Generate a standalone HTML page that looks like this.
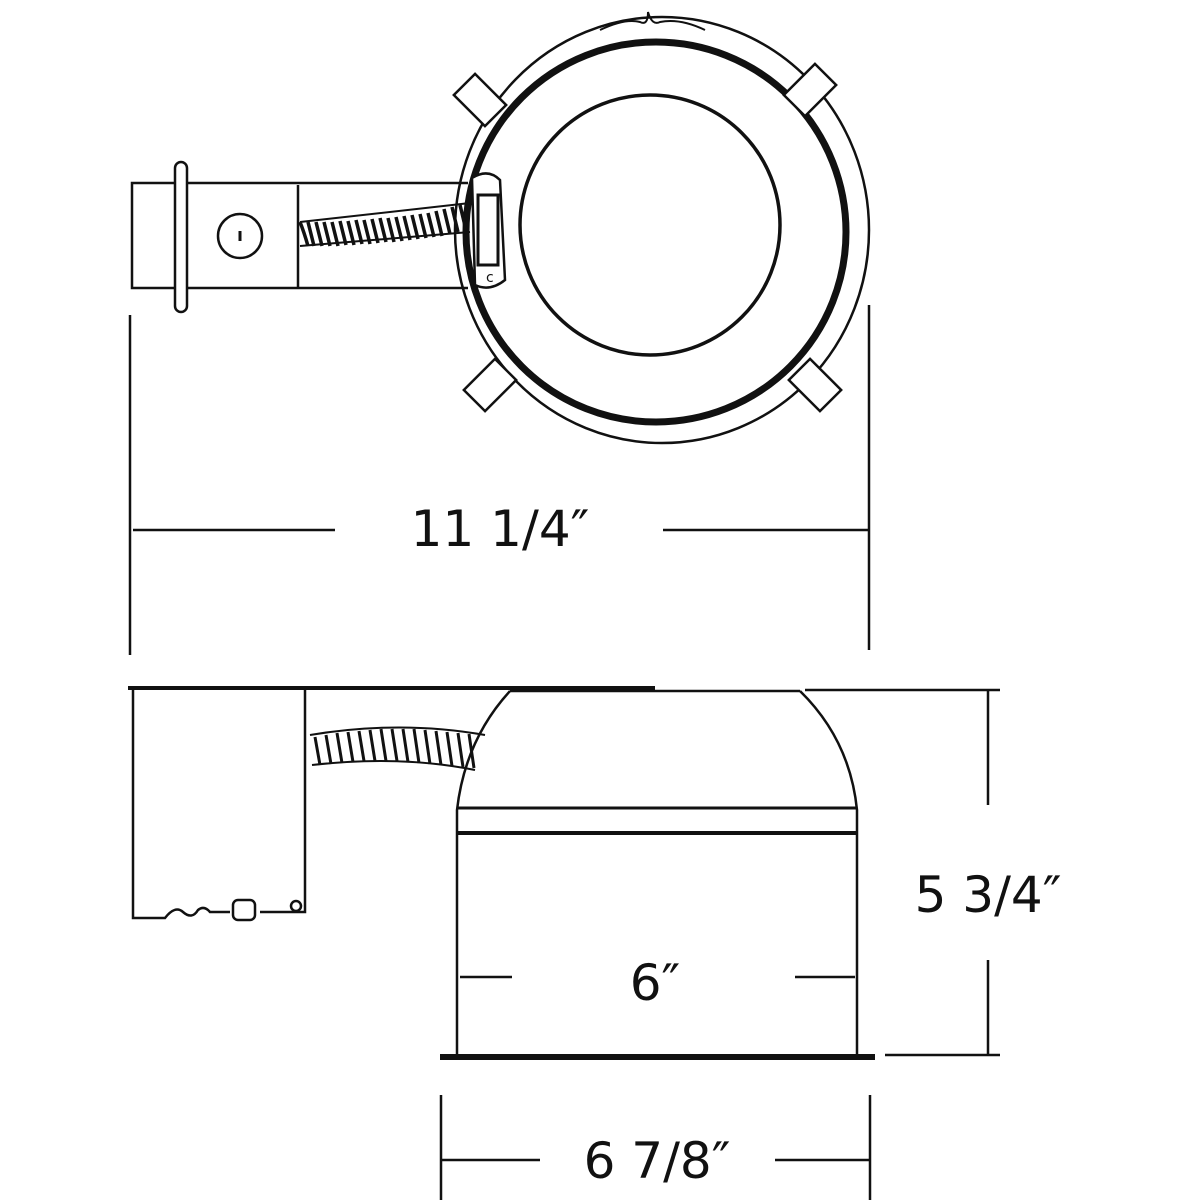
<!DOCTYPE html>
<html><head><style>body{margin:0;background:#fff}svg{display:block}text{font-family:"DejaVu Sans","Liberation Sans",sans-serif;fill:#111}</style></head><body>
<svg width="1200" height="1200" viewBox="0 0 1200 1200" xmlns="http://www.w3.org/2000/svg">
<g fill="none" stroke="#111" stroke-width="2.5">
<!-- plan view -->
<ellipse cx="662" cy="230" rx="207" ry="213"/>
<circle cx="656" cy="232" r="190" stroke-width="7"/>
<circle cx="650" cy="225" r="130" stroke-width="3.5"/>
<path d="M600 30 Q625 18 640 22 Q648 26 648 12 Q652 26 660 22 Q680 18 705 30" stroke-width="2"/>
<g fill="#fff">
<rect x="-15" y="-22" width="30" height="44" transform="translate(480,100) rotate(-45)"/>
<rect x="-15" y="-22" width="30" height="44" transform="translate(810,90) rotate(45)"/>
<rect x="-15" y="-22" width="30" height="44" transform="translate(490,385) rotate(45)"/>
<rect x="-15" y="-22" width="30" height="44" transform="translate(815,385) rotate(-45)"/>
</g>
<path d="M468 183 H132 V288 H468"/>
<line x1="298" y1="185" x2="298" y2="288"/>
<rect x="175" y="162" width="12" height="150" rx="6" fill="#fff"/>
<circle cx="240" cy="236" r="22"/>
<line x1="240" y1="231" x2="240" y2="241" stroke-width="3"/>
<path d="M300 222 Q304 232 308 246 M308 222 L314 246 M316 222 L322 246 M324 222 L330 246 M332 222 L338 246 M340 221 L346 245 M348 221 L354 245 M356 220 L362 244 M364 220 L370 244 M372 219 L378 243 M380 218 L386 242 M388 218 L394 242 M396 217 L402 241 M404 216 L410 240 M412 215 L418 239 M420 214 L426 238 M428 213 L434 237 M436 211 L442 236 M444 209 L450 234 M452 207 L458 232 M460 205 L466 230" stroke-width="3.5"/>
<path d="M300 222 L470 203 M300 246 L470 232" stroke-width="2"/>
<path d="M472 178 Q488 168 500 180 L505 280 Q490 292 475 285 Z" fill="#fff"/>
<rect x="478" y="195" width="20" height="70" stroke-width="3"/>
<text x="486" y="282" font-size="14" stroke="none">c</text>
<!-- dimension 11 1/4 -->
<line x1="130" y1="315" x2="130" y2="655"/>
<line x1="869" y1="305" x2="869" y2="650"/>
<line x1="133" y1="530" x2="335" y2="530"/>
<line x1="663" y1="530" x2="869" y2="530"/>
<!-- side view -->
<line x1="128" y1="688" x2="655" y2="688" stroke-width="4"/>
<line x1="510" y1="691" x2="800" y2="691"/>
<path d="M133 690 V918 H165 Q175 905 183 912 Q192 920 198 910 Q204 905 210 912 L230 912 M260 912 H305 V690"/>
<rect x="233" y="900" width="22" height="20" rx="5"/>
<circle cx="296" cy="906" r="5"/>
<path d="M510 691 Q465 740 457 810 V1055 M800 691 Q850 740 857 810 V1055"/>
<line x1="457" y1="808" x2="857" y2="808" stroke-width="3"/>
<line x1="457" y1="833" x2="857" y2="833" stroke-width="4"/>
<line x1="440" y1="1057" x2="875" y2="1057" stroke-width="6"/>
<path d="M310 735 Q400 720 485 735 M312 765 Q400 755 475 770" stroke-width="2"/>
<path d="M315 737 L320 765 M326 735 L331 764 M337 733 L342 763 M348 732 L353 762 M359 731 L364 761 M370 730 L375 761 M381 729 L386 761 M392 729 L397 761 M403 729 L408 762 M414 729 L419 763 M425 730 L430 764 M436 731 L441 765 M447 732 L452 766 M458 733 L463 767 M469 734 L474 768" stroke-width="3"/>
<line x1="460" y1="977" x2="512" y2="977"/>
<line x1="795" y1="977" x2="855" y2="977"/>
<!-- 5 3/4 -->
<line x1="805" y1="690" x2="1000" y2="690"/>
<line x1="885" y1="1055" x2="1000" y2="1055"/>
<line x1="988" y1="690" x2="988" y2="805"/>
<line x1="988" y1="960" x2="988" y2="1055"/>
<!-- 6 7/8 -->
<line x1="441" y1="1095" x2="441" y2="1200"/>
<line x1="870" y1="1095" x2="870" y2="1200"/>
<line x1="441" y1="1160" x2="540" y2="1160"/>
<line x1="775" y1="1160" x2="870" y2="1160"/>
</g>
<text x="500" y="546" font-size="50" text-anchor="middle">11 1/4″</text>
<text x="988" y="912" font-size="50" text-anchor="middle">5 3/4″</text>
<text x="655" y="1000" font-size="50" text-anchor="middle">6″</text>
<text x="657" y="1178" font-size="50" text-anchor="middle">6 7/8″</text>
</svg>
</body></html>
